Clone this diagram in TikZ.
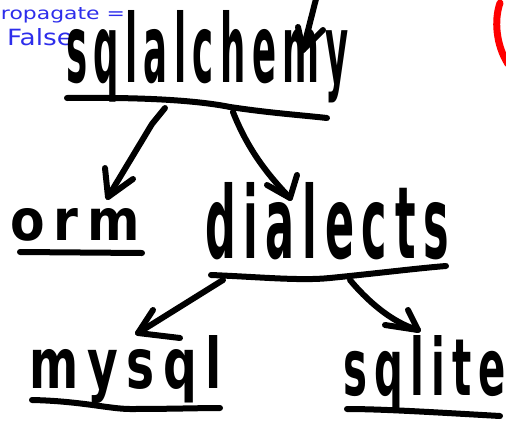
\documentclass[tikz,border=0pt]{standalone}
\usepackage{fontspec}
\usepackage{graphicx}
\newfontfamily\hand{DejaVu Sans}
\newfontfamily\handsp[LetterSpace=18]{DejaVu Sans}
\definecolor{penblue}{RGB}{45,45,235}
\definecolor{penred}{RGB}{255,0,0}
\tikzset{
  ink/.style={line width=6pt, line cap=round, line join=round},
  word/.style={anchor=base west, inner sep=0pt, outer sep=0pt},
  note/.style={anchor=base west, inner sep=0pt, outer sep=0pt, text=penblue}
}
% fit a word into a given width and height above the baseline
\newcommand{\fitword}[3]{\resizebox{#1pt}{#2pt}{\hand #3}}
\newcommand{\fitbold}[3]{\resizebox{#1pt}{#2pt}{\handsp\bfseries #3}}
\begin{document}
\begin{tikzpicture}[x=1pt, y=-1pt]
\useasboundingbox (0,0) rectangle (506,421);

% blue annotation
\node[note] (prop) at (1,19) {\fitword{124}{12}{ropagate =}};
\node[note] (false) at (7,45) {\fitword{66}{17}{False}};

% red stroke at the top right
\draw[penred, line width=7pt, line cap=round] (500,3) .. controls (494,20) and (496,45) .. (508,64);

% words
\node[word] (sqla) at (66,82) {\fitbold{283}{72}{sqlalchemy}};
\node[word] (orm) at (10,240) {\fitbold{130}{32}{orm}};
\node[word] (dial) at (205,258) {\fitbold{244}{76}{dialects}};
\node[word] (mysql) at (30,388) {\fitbold{192}{53}{mysql}};
\node[word] (sqlite) at (343,395) {\fitbold{163}{60}{sqlite}};

% underlines
\draw[ink] (67,98) .. controls (150,97) and (200,101) .. (230,107) .. controls (270,113) and (300,115) .. (327,118);
\draw[ink] (20,252) -- (142,253);
\draw[ink] (211,275) .. controls (260,277) and (300,281) .. (330,278) .. controls (380,273) and (420,268) .. (446,266);
\draw[ink] (32,400) .. controls (80,401) and (110,409) .. (130,409) .. controls (170,409) and (200,408) .. (220,408);
\draw[ink] (347,409) .. controls (380,409) and (430,412) .. (500,416);

% arrow tips and tails
\coordinate (in0) at (317,-5);
\coordinate (tip0) at (303,50);
\coordinate (a1) at (165,108);
\coordinate (t1) at (108,197);
\coordinate (a2) at (233,112);
\coordinate (t2) at (290,198);
\coordinate (a3) at (223,280);
\coordinate (t3) at (138,333);
\coordinate (a4) at (350,280);
\coordinate (t4) at (418,330);

% arrow into sqlalchemy
\draw[ink] (in0) -- (tip0);
\draw[ink] (298,27) -- (tip0) -- (323,30);

% sqlalchemy -> orm
\draw[ink] (a1) -- (152,124) -- (t1);
\draw[ink] (105,168) -- (t1) -- (133,179);

% sqlalchemy -> dialects
\draw[ink] (a2) .. controls (248,150) and (268,175) .. (t2);
\draw[ink] (267,185) -- (t2) -- (297,175);

% dialects -> mysql
\draw[ink] (a3) -- (t3);
\draw[ink] (153,310) -- (t3) -- (180,338);

% dialects -> sqlite
\draw[ink] (a4) .. controls (365,298) and (390,322) .. (t4);
\draw[ink] (385,325) -- (t4) -- (408,310);
\end{tikzpicture}
\end{document}
